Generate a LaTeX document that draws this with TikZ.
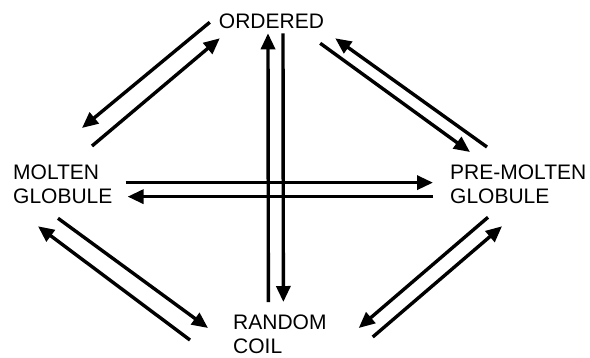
\documentclass[tikz,border=0pt]{standalone}
\usepackage{fontspec}
\setmainfont{Liberation Sans}
\usetikzlibrary{arrows.meta}
\begin{document}
\begin{tikzpicture}[x=1pt, y=-1pt, line join=round,
    lbl/.style={inner sep=0pt, anchor=north west, align=left, font=\fontsize{21}{24}\selectfont},
    arr/.style={line width=3.4pt, -{Triangle[length=16pt, width=14pt]}}]
    \useasboundingbox (0,0) rectangle (590,357);
    % states
    \node[lbl, anchor=north] (ord) at (271.5,14) {ORDERED};
    \node[lbl] (mg) at (13,165) {MOLTEN\\GLOBULE};
    \node[lbl] (pmg) at (450,165) {PRE-MOLTEN\\GLOBULE};
    \node[lbl] (rc) at (233,315) {RANDOM\\COIL};
    % ordered <-> molten globule
    \draw[arr] ([shift={(-9,-7)}]ord.south west) -- ([shift={(69,-37)}]mg.north west);
    \draw[arr] ([shift={(79,-19)}]mg.north west) -- ([shift={(1,9)}]ord.south west);
    % ordered <-> pre-molten globule
    \draw[arr] ([shift={(37,-18)}]pmg.north west) -- ([shift={(11,9)}]ord.south east);
    \draw[arr] ([shift={(-4,14)}]ord.south east) -- ([shift={(20,-13)}]pmg.north west);
    % molten globule <-> random coil
    \draw[arr] ([shift={(45,14)}]mg.south west) -- ([shift={(-25,13)}]rc.north west);
    \draw[arr] ([shift={(-43,25)}]rc.north west) -- ([shift={(25,22)}]mg.south west);
    % pre-molten globule <-> random coil
    \draw[arr] ([shift={(38,13)}]pmg.south west) -- ([shift={(32,13)}]rc.north east);
    \draw[arr] ([shift={(46,22)}]rc.north east) -- ([shift={(52,22)}]pmg.south west);
    % molten globule <-> pre-molten globule
    \draw[arr] ([shift={(13,-2)}]mg.east) -- ([shift={(-17,-2)}]pmg.west);
    \draw[arr] ([shift={(-17,12)}]pmg.west) -- ([shift={(15,12)}]mg.east);
    % ordered <-> random coil
    \draw[arr] ([shift={(-11.5,-13)}]rc.north) -- ([shift={(-3.5,4)}]ord.south);
    \draw[arr] ([shift={(11.5,4)}]ord.south) -- ([shift={(3.5,-13)}]rc.north);
\end{tikzpicture}
\end{document}
